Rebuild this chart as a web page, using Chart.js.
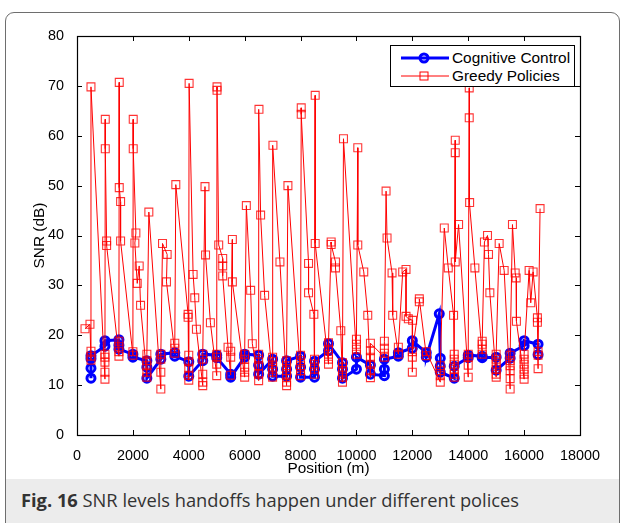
<!DOCTYPE html>
<html><head><meta charset="utf-8">
<script src="https://cdn.jsdelivr.net/npm/chart.js@4.4.0/dist/chart.umd.min.js"></script>
<style>
html,body{margin:0;padding:0;background:#fff;width:624px;height:523px;overflow:hidden;position:relative;}
#frame{position:absolute;left:5px;top:12px;width:613px;height:560px;border:1px solid #6e6e6e;border-radius:9px;overflow:hidden;background:#fff;}
#caption{position:absolute;left:0;right:0;top:466px;height:100px;background:#ececec;}
#captext{position:absolute;left:21px;top:487px;font-family:'Open Sans',sans-serif;font-size:18.3px;line-height:26px;color:#333;white-space:nowrap;}
#captext b{font-weight:700;}
#wrap{position:absolute;left:0;top:0;width:624px;height:485px;}
#legend{position:absolute;left:390px;top:45px;width:183px;height:40px;border:1.3px solid #000;background:#fff;font-family:'Liberation Sans',Arial,sans-serif;font-size:15.4px;color:#000;}
.row{position:absolute;left:0;height:18px;width:183px;}
.row svg{position:absolute;left:8px;top:0;}
.row span{position:absolute;left:61px;top:0;line-height:18px;}
</style></head>
<body>
<div id="frame"><div id="caption"></div></div>
<div id="captext"><b>Fig. 16</b> SNR levels handoffs happen under different polices</div>
<div id="wrap"><canvas id="c" width="624" height="485"></canvas></div>
<div id="legend">
  <div class="row" style="top:2.5px"><svg width="52" height="18"><line x1="2" y1="9" x2="50" y2="9" stroke="#0000ff" stroke-width="3"/><circle cx="25" cy="9" r="4" fill="none" stroke="#0000ff" stroke-width="3"/></svg><span>Cognitive Control</span></div>
  <div class="row" style="top:21px"><svg width="52" height="18"><line x1="2" y1="9" x2="50" y2="9" stroke="#ff0000" stroke-width="1"/><rect x="21" y="5" width="8" height="8" fill="none" stroke="#ff0000" stroke-width="1"/></svg><span>Greedy Policies</span></div>
</div>
<script>
// ---- data ----
const xTicks = [0,2000,4000,6000,8000,10000,12000,14000,16000,18000];
const yTicks = [0,10,20,30,40,50,60,70,80];

const cogX = [500,500,500,500, 1000,1000, 1500,1500,1500, 2000,2000, 2500,2500,2500, 3000,3000, 3500,3500, 4000,4000, 4500,4500, 5000,5000, 5500,5500, 6000,6000, 6500,6500,6500, 7000,7000,7000, 7500,7500,7500, 8000,8000,8000, 8500,8500,8500, 9000,9000, 9500,9500,9500, 10000,10000, 10500,10500, 11000,11000,11000, 11500,11500, 12000,12000, 12500,12500, 12964, 13000,13000,13000, 13500,13500, 14000,14000, 14500,14500, 15000,15000, 15500,15500, 16000,16000, 16500,16500];
const cogY = [11.4,13.4,15.3,15.9, 17.8,18.9, 19.1,18.0,17.2, 16.2,15.6, 14.9,13.6,11.4, 15.2,16.2, 16.5,15.8, 14.7,11.8, 14.9,16.2, 16.0,15.5, 12.2,11.6, 15.6,16.2, 16.0,14.0,12.2, 15.2,13.2,11.8, 11.8,13.2,14.9, 15.8,13.6,11.6, 11.6,13.2,14.8, 16.9,18.3, 14.5,13.2,11.4, 13.2,15.6, 14.0,12.2, 11.9,13.2,15.2, 15.8,16.5, 17.4,18.9, 16.5,15.6, 24.3, 15.4,13.8,12.6, 11.4,13.8, 15.5,16.0, 15.8,15.5, 15.6,13.0, 15.4,16.4, 17.9,18.9, 18.2,16.1];

const greedyX = [286,464,
 500,500,500,500,
 1000,1000,1000,1000,1000,1012,1012,1060,1060,
 1500,1500,1500,1500,1512,1512,1560,1560,
 2000,2000,2012,2012,2107,2071,2155,2226,2274,
 2500,2500,2500,2500,2500,2571,
 3000,3000,3000,3000,3060,3226,3202,
 3500,3500,3500,3536,3976,3976,
 4000,4000,4000,4000,4000,4012,4155,4214,4274,
 4500,4500,4500,4500,4500,4580,4600,4774,
 5000,5000,5000,5000,5011,5011,5071,5214,5214,5214,
 5405,5500,5500,5500,5560,5560,
 6000,6000,6000,6000,6000,6060,6214,6274,
 6500,6500,6500,6500,6500,6512,6571,6714,
 7000,7000,7000,7000,7000,7012,7262,
 7500,7500,7500,7500,7500,7500,7548,
 8000,8000,8000,8000,8000,8024,8024,8286,8286,8476,
 8500,8500,8500,8500,8524,8524,
 9000,9000,9000,9000,9000,9095,9095,9250,9250,9440,
 9500,9500,9500,9500,9500,9536,
 10000,10000,10000,10000,10048,10048,10262,10405,
 10500,10500,10500,10500,10500,10500,
 11000,11000,11000,11000,11060,11095,11274,11298,
 11500,11500,11655,11774,11774,11857,12010,
 12000,12000,12000,12250,12250,
 12500,12500,
 13000,13000,13000,13000,13143,13286,13476,
 13500,13500,13500,13500,13500,13500,13536,13536,13536,13655,
 14000,14000,14000,14000,14036,14036,14050,14238,
 14500,14500,14500,14500,14580,14690,14726,14774,
 15000,15000,15000,15000,15000,15000,15107,15286,
 15500,15500,15500,15500,15500,15500,15583,15680,15714,15725,
 16000,16000,16000,16000,16000,16000,16179,16238,16322,16476,16476,
 16500,16500,16500,16571];
const greedyY = [21.3,22.2,
 15.0,15.8,16.8,69.8,
 11.2,12.6,14.6,15.6,16.2,63.3,57.4,38.9,38.0,
 15.8,16.7,17.7,18.8,70.7,49.6,46.8,38.9,
 16.0,16.7,63.3,57.4,40.5,38.5,30.4,33.9,26.0,
 11.6,12.6,13.9,14.9,16.2,44.7,
 9.2,12.6,15.2,16.2,38.4,36.2,30.7,
 16.4,17.4,18.4,50.2,24.2,23.6,
 11.0,12.0,13.4,14.7,16.0,70.5,32.2,27.5,21.2,
 9.9,10.6,12.2,15.2,16.2,49.8,36.1,22.5,
 11.9,14.2,15.6,16.2,69.8,69.1,38.1,35.4,33.9,31.9,
 17.6,12.0,15.6,16.8,39.2,30.7,
 11.6,12.6,13.6,15.2,16.2,46.0,29.0,18.3,
 10.9,12.2,13.9,15.2,16.2,65.3,44.1,28.0,
 11.6,12.6,13.6,14.7,15.6,58.1,34.7,
 9.9,10.6,11.9,12.9,13.9,14.9,50.0,
 11.9,12.9,13.9,14.9,16.0,65.6,64.3,34.4,28.5,24.2,
 12.2,13.2,14.2,15.2,68.1,38.4,
 14.2,15.2,16.2,17.2,18.5,38.7,38.2,34.7,33.5,20.9,
 10.6,11.6,12.6,13.6,14.5,59.4,
 16.2,17.2,18.2,19.2,57.6,38.1,32.7,24.0,
 11.5,12.9,14.2,15.6,16.9,18.4,
 15.6,16.4,17.4,18.8,48.9,39.5,32.5,24.0,
 16.2,17.6,32.7,33.2,23.8,23.3,23.0,
 12.6,15.6,16.7,26.7,27.3,
 15.9,16.7,
 10.6,11.9,12.9,13.9,41.5,33.5,24.0,
 11.6,12.2,13.2,14.2,15.2,16.2,59.1,56.6,34.7,42.2,
 11.6,14.0,15.6,16.2,69.6,63.6,46.6,33.5,
 16.2,17.2,18.2,18.8,38.7,40.0,36.2,28.5,
 11.6,12.2,13.2,14.2,15.2,16.2,38.4,33.0,
 9.2,11.3,12.9,13.9,14.9,16.0,42.2,32.5,31.5,22.8,
 11.2,12.2,13.2,14.2,15.2,16.2,33.0,26.5,32.7,23.5,22.6,
 13.3,16.0,16.7,45.4];

const toPts = (xs, ys) => xs.map((x, i) => ({x, y: ys[i]}));

const boxPlugin = {
  id: 'matlabBox',
  afterDatasetsDraw(chart) {
    const {ctx, chartArea: a, scales: {x, y}} = chart;
    ctx.save();
    ctx.strokeStyle = '#000';
    ctx.lineWidth = 1;
    ctx.beginPath();
    xTicks.forEach(v => {
      const px = Math.round(x.getPixelForValue(v)) + 0.5;
      ctx.moveTo(px, a.bottom); ctx.lineTo(px, a.bottom - 5);
      ctx.moveTo(px, a.top); ctx.lineTo(px, a.top + 5);
    });
    yTicks.forEach(v => {
      const py = Math.round(y.getPixelForValue(v)) + 0.5;
      ctx.moveTo(a.left, py); ctx.lineTo(a.left + 5, py);
      ctx.moveTo(a.right, py); ctx.lineTo(a.right - 5, py);
    });
    ctx.stroke();
    ctx.lineWidth = 1.2;
    ctx.strokeRect(a.left + 0.5, a.top + 0.5, a.right - a.left, a.bottom - a.top);
    ctx.restore();
  }
};

const tickFont = {family: "'Liberation Sans', Arial, sans-serif", size: 14.4};
const titleFont = {family: "'Liberation Sans', Arial, sans-serif", size: 15.4};

new Chart(document.getElementById('c'), {
  type: 'scatter',
  data: {
    datasets: [
      {
        label: 'Greedy Policies',
        data: toPts(greedyX, greedyY),
        showLine: true,
        order: 0,
        borderColor: '#ff0000',
        borderWidth: 1,
        pointStyle: 'rect',
        pointRadius: 5.6,
        pointBorderWidth: 1.1,
        pointBorderColor: 'rgba(255,0,0,0.8)',
        pointBackgroundColor: 'rgba(0,0,0,0)'
      },
      {
        label: 'Cognitive Control',
        data: toPts(cogX, cogY),
        showLine: true,
        order: 1,
        borderColor: '#0000ff',
        borderWidth: 3,
        pointStyle: 'circle',
        pointRadius: 4,
        pointBorderWidth: 3,
        pointBorderColor: '#0000ff',
        pointBackgroundColor: 'rgba(0,0,0,0)'
      }
    ]
  },
  options: {
    responsive: false,
    animation: false,
    devicePixelRatio: 1,
    events: [],
    layout: {padding: {left: 25, right: 44, top: 36, bottom: 0}},
    plugins: {legend: {display: false}, tooltip: {enabled: false}},
    scales: {
      x: {
        type: 'linear', min: 0, max: 18000,
        afterBuildTicks: s => { s.ticks = xTicks.map(v => ({value: v})); },
        afterFit: s => { s.height = 50; },
        grid: {display: false},
        border: {display: false},
        ticks: {font: tickFont, color: '#000', padding: 4, maxRotation: 0, callback: v => String(v)},
        title: {display: true, text: 'Position (m)', font: titleFont, color: '#000', padding: {top: 0, bottom: 7.5}}
      },
      y: {
        type: 'linear', min: 0, max: 80,
        afterBuildTicks: s => { s.ticks = yTicks.map(v => ({value: v})); },
        afterFit: s => { s.width = 52; },
        grid: {display: false},
        border: {display: false},
        ticks: {font: tickFont, color: '#000', padding: 5, callback: v => String(v)},
        title: {display: true, text: 'SNR (dB)', font: titleFont, color: '#000', padding: {top: 5.5, bottom: 0}}
      }
    }
  },
  plugins: [boxPlugin]
});
</script>
</body></html>
